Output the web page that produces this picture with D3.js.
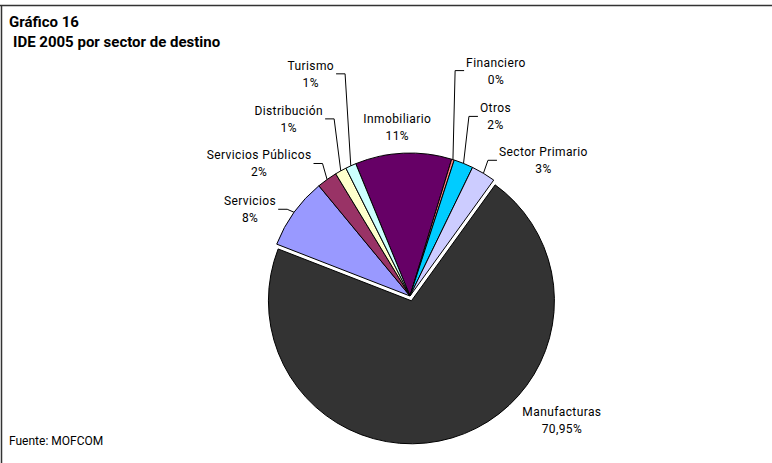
<!DOCTYPE html>
<html>
<head>
<meta charset="utf-8">
<script src="https://cdn.jsdelivr.net/npm/d3@7"></script>
<style>
  body { margin: 0; background: #fff; }
  svg { display: block; }
</style>
</head>
<body>
<svg width="772" height="463"></svg>
<script>
// data, clockwise from Inmobiliario
const sectors = ["Inmobiliario", "Financiero", "Otros", "Sector Primario", "Manufacturas",
                 "Servicios", "Servicios Públicos", "Distribución", "Turismo"];
const shares = [10.9, 0.3, 2.2, 2.75, 70.95, 8.1, 2.3, 1.3, 1.2];
const shareLabels = ["11%", "0%", "2%", "3%", "70,95%", "8%", "2%", "1%", "1%"];
const colors = ["#660066", "#ff8080", "#00ccff", "#ccccff", "#333333",
                "#9999ff", "#993366", "#ffffcc", "#ccffff"];

// label placement: offset of label (center, first baseline) from slice edge point
const labelOffset = [[-6, -30], [43, -93], [32, -51], [60, -17], [110, -22],
                     [-44, -7], [-68, -20], [-52, -56], [-40, -96]];
const hasLeader = [false, true, true, true, false, true, true, true, true];

const svg = d3.select("svg");
const font = "Roboto, 'Liberation Sans', sans-serif";

// frame
svg.append("line").attr("x1", 0).attr("x2", 772).attr("y1", 5.5).attr("y2", 5.5)
  .attr("stroke", "#333").attr("stroke-width", 1.5);
svg.append("line").attr("x1", 1.5).attr("x2", 1.5).attr("y1", 5).attr("y2", 463)
  .attr("stroke", "#333").attr("stroke-width", 1.5);

// titles
svg.append("text").attr("x", 9).attr("y", 27)
  .attr("font-family", font).attr("font-weight", "bold").attr("font-size", "15px")
  .text("Gráfico 16");
svg.append("text").attr("x", 13).attr("y", 47)
  .attr("font-family", font).attr("font-weight", "bold").attr("font-size", "15px")
  .text("IDE 2005 por sector de destino");

svg.append("text").attr("x", 9).attr("y", 445)
  .attr("font-family", font).attr("font-size", "12px")
  .text("Fuente: MOFCOM");

// pie
const cx = 410, cy = 296, r = 143, explode = 5;
const start = -22.3 * Math.PI / 180;

const pie = d3.pie().sort(null).value(d => d.v)
  .startAngle(start).endAngle(start + 2 * Math.PI);
const arcs = pie(sectors.map((s, i) => ({name: s, v: shares[i], i: i})));
const arc = d3.arc().innerRadius(0).outerRadius(r);

const g = svg.append("g").attr("transform", `translate(${cx},${cy})`);

function shift(d) {
  if (d.data.name !== "Manufacturas") return [0, 0];
  const m = (d.startAngle + d.endAngle) / 2;
  return [explode * Math.sin(m), -explode * Math.cos(m)];
}

g.selectAll("path.slice")
  .data(arcs)
  .enter()
  .append("path")
  .attr("class", "slice")
  .attr("d", arc)
  .attr("transform", d => `translate(${shift(d)})`)
  .attr("fill", d => colors[d.data.i])
  .attr("stroke", "#000")
  .attr("stroke-width", 1)
  .attr("stroke-linejoin", "round");

// labels
const lbl = svg.append("g");
arcs.forEach(d => {
  const i = d.data.i;
  const m = (d.startAngle + d.endAngle) / 2;
  const s = shift(d);
  const px = cx + s[0] + r * Math.sin(m);
  const py = cy + s[1] - r * Math.cos(m);
  const lx = px + labelOffset[i][0];
  const ly = py + labelOffset[i][1];

  const t = lbl.append("text")
    .attr("font-family", font)
    .attr("font-size", "12px")
    .attr("letter-spacing", "0.4px")
    .attr("text-anchor", "middle")
    .attr("fill", "#000");
  t.append("tspan").attr("x", lx).attr("y", ly).text(d.data.name);
  t.append("tspan").attr("x", lx).attr("y", ly + 17).text(shareLabels[i]);

  if (hasLeader[i]) {
    const w = t.select("tspan").node().getComputedTextLength();
    const side = px > lx ? 1 : -1;
    const edge = lx + side * (w / 2 + 2);
    const hy = ly + 4;
    lbl.append("path")
      .attr("d", d3.line()([[edge, hy], [edge + side * 9, hy], [px, py]]))
      .attr("fill", "none")
      .attr("stroke", "#000")
      .attr("stroke-width", 1);
  }
});
</script>
</body>
</html>
